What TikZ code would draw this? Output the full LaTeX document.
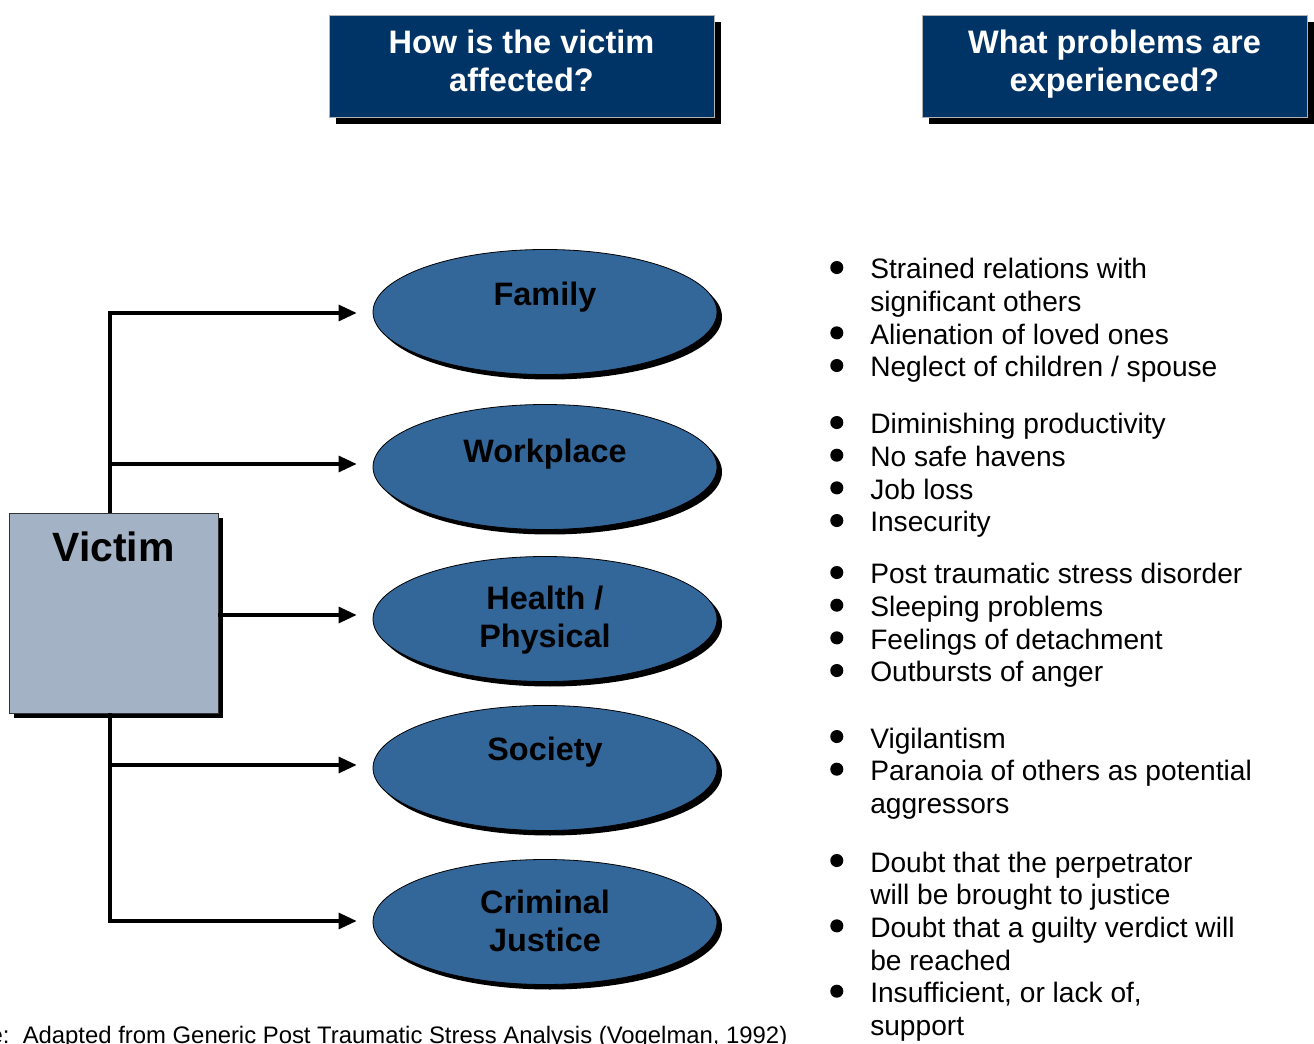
\documentclass[tikz,border=0pt]{standalone}
\usepackage{fontspec}
\setmainfont{Liberation Sans}
\usetikzlibrary{arrows.meta,shapes.geometric,shadows}
\definecolor{navy}{RGB}{0,51,102}
\definecolor{ellblue}{RGB}{51,102,153}
\definecolor{victimgray}{RGB}{163,178,196}
\newcommand\myblt{\tikz[baseline=-8.6pt]\fill[black] (0,0) circle[radius=4.9pt];}
\begin{document}
\begin{tikzpicture}[x=0.75pt,y=-0.75pt,
  header/.style={rectangle, fill=navy, draw=gray!60, line width=0.6pt,
    minimum width=288.75pt, minimum height=76.5pt, inner sep=0pt,
    drop shadow={shadow xshift=5.25pt, shadow yshift=-5.25pt, fill=black, opacity=1}},
  headtext/.style={text=white, font=\bfseries\fontsize{24.4}{28.5}\selectfont, align=center},
  area/.style={ellipse, fill=ellblue, draw=black, line width=0.6pt,
    minimum width=258pt, minimum height=93.75pt, inner sep=0pt,
    drop shadow={shadow xshift=3.75pt, shadow yshift=-3.75pt, fill=black, opacity=1}},
  areatext/.style={text=black, font=\bfseries\fontsize{24.3}{28.5}\selectfont, align=center},
  victimbox/.style={rectangle, fill=victimgray, draw=black!80, line width=0.6pt,
    minimum width=156.75pt, minimum height=150pt, inner sep=0pt,
    drop shadow={shadow xshift=3.75pt, shadow yshift=-3.75pt, fill=black, opacity=1}},
  victimtext/.style={text=black, font=\bfseries\fontsize{30.7}{34}\selectfont},
  conn/.style={line width=2.3pt, -{Triangle[length=13.5pt,width=12pt]}, shorten >=12pt},
  bl/.style={anchor=base west, inner sep=0pt, font=\fontsize{21.1}{24.5}\selectfont},
  foot/.style={anchor=base west, inner sep=0pt, font=\fontsize{17.9}{20}\selectfont}
]
\useasboundingbox (0,0) rectangle (1314,1044);

% headers
\node[header, label={[headtext, yshift=3.75pt]center:{How is the victim\\affected?}}] (h1) at (521.5,66) {};
\node[header, label={[headtext, yshift=1.5pt]center:{What problems are\\experienced?}}] (h2) at (1114.5,66) {};

% ellipses
\node[area, label={[areatext, yshift=11.25pt]center:Family}] (fam) at (545,312) {};
\node[area, label={[areatext, yshift=9.75pt]center:Workplace}] (work) at (545,467) {};
\node[area, label={[areatext, yshift=-1.1pt]center:{Health /\\Physical}}] (health) at (545,619) {};
\node[area, label={[areatext, yshift=11.75pt]center:Society}] (soc) at (545,768) {};
\node[area, label={[areatext, yshift=0.75pt]center:{Criminal\\Justice}}] (crim) at (545,922) {};

% victim
\coordinate (trunk) at (110,613);
\draw[line width=2.3pt] (trunk |- 0,500) -- (trunk |- 0,730);
\node[victimbox, label={[victimtext, yshift=49.5pt]center:Victim}] (v) at (113.5,613) {};

% connectors
\draw[conn] (v.north -| trunk) |- ([yshift=-0.75pt]fam.west);
\draw[conn] (v.north -| trunk) |- ([yshift=2.25pt]work.west);
\draw[conn] ([yshift=3pt]health.west -| v.east) -- ([yshift=3pt]health.west);
\draw[conn] (v.south -| trunk) |- ([yshift=2.25pt]soc.west);
\draw[conn] (v.south -| trunk) |- ([yshift=0.75pt]crim.west);

% bullet lists
\node[bl] (l1) at (830,279) {\begin{tabular}[t]{@{}p{30pt}@{}l@{}}
\myblt& Strained relations with\\
 & significant others\\
\myblt& Alienation of loved ones\\
\myblt& Neglect of children / spouse
\end{tabular}};
\node[bl] (l2) at (830,434) {\begin{tabular}[t]{@{}p{30pt}@{}l@{}}
\myblt& Diminishing productivity\\
\myblt& No safe havens\\
\myblt& Job loss\\
\myblt& Insecurity
\end{tabular}};
\node[bl] (l3) at (830,584) {\begin{tabular}[t]{@{}p{30pt}@{}l@{}}
\myblt& Post traumatic stress disorder\\
\myblt& Sleeping problems\\
\myblt& Feelings of detachment\\
\myblt& Outbursts of anger
\end{tabular}};
\node[bl] (l4) at (830,748) {\begin{tabular}[t]{@{}p{30pt}@{}l@{}}
\myblt& Vigilantism\\
\myblt& Paranoia of others as potential\\
 & aggressors
\end{tabular}};
\node[bl] (l5) at (830,872) {\begin{tabular}[t]{@{}p{30pt}@{}l@{}}
\myblt& Doubt that the perpetrator\\
 & will be brought to justice\\
\myblt& Doubt that a guilty verdict will\\
 & be reached\\
\myblt& Insufficient, or lack of,\\
 & support
\end{tabular}};

% footer
\node[foot] (src) at (-73,1043) {Source:\ \ Adapted from Generic Post Traumatic Stress Analysis (Vogelman, 1992)};
\end{tikzpicture}
\end{document}
